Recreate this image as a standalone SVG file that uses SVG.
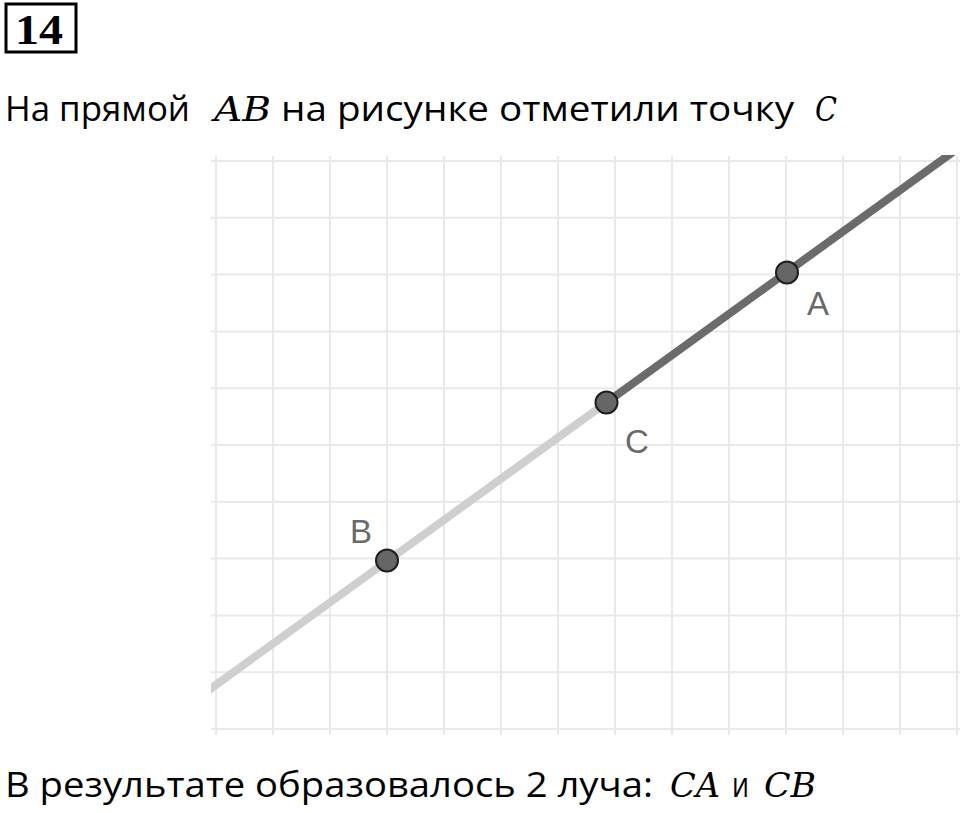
<svg xmlns="http://www.w3.org/2000/svg" width="960" height="813" viewBox="0 0 960 813">
<style>
.body{font-family:"Open Sans","Noto Sans","Liberation Sans",sans-serif;font-size:34px;fill:#000}
.math{font-family:"DejaVu Serif","Liberation Serif",serif;font-style:italic;font-size:33px;fill:#000}
.grid line{stroke:#e9e9e9;stroke-width:2}
.lbl{font-family:"Liberation Sans","DejaVu Sans",sans-serif;font-size:33px;fill:#6a6a6a}
.pt{fill:#666;stroke:#1e1e1e;stroke-width:2}
</style>
<defs>
<clipPath id="plot"><rect x="211" y="155" width="749" height="581"/></clipPath>
</defs>
<rect width="960" height="813" fill="#fff"/>
<g id="number">
<rect x="6" y="4" width="70" height="48" fill="none" stroke="#000" stroke-width="3"/>
<text x="15" y="44" font-family="Liberation Serif, serif" font-weight="bold" font-size="43" textLength="48" lengthAdjust="spacingAndGlyphs">14</text>
</g>
<g id="title">
<text class="body" x="5" y="121" textLength="185" lengthAdjust="spacingAndGlyphs">На прямой</text>
<text class="math" x="214" y="121" textLength="57" lengthAdjust="spacingAndGlyphs">AB</text>
<text class="body" x="281" y="121" textLength="513" lengthAdjust="spacingAndGlyphs">на рисунке отметили точку</text>
<text class="math" x="815" y="121" textLength="22" lengthAdjust="spacingAndGlyphs">C</text>
</g>
<g id="grid" class="grid">
<line x1="216" y1="156" x2="216" y2="735"/>
<line x1="273" y1="156" x2="273" y2="735"/>
<line x1="330" y1="156" x2="330" y2="735"/>
<line x1="387" y1="156" x2="387" y2="735"/>
<line x1="444" y1="156" x2="444" y2="735"/>
<line x1="501" y1="156" x2="501" y2="735"/>
<line x1="558" y1="156" x2="558" y2="735"/>
<line x1="615" y1="156" x2="615" y2="735"/>
<line x1="672" y1="156" x2="672" y2="735"/>
<line x1="729" y1="156" x2="729" y2="735"/>
<line x1="786" y1="156" x2="786" y2="735"/>
<line x1="843" y1="156" x2="843" y2="735"/>
<line x1="900" y1="156" x2="900" y2="735"/>
<line x1="957" y1="156" x2="957" y2="735"/>
<line x1="211" y1="161" x2="960" y2="161"/>
<line x1="211" y1="217.8" x2="960" y2="217.8"/>
<line x1="211" y1="274.6" x2="960" y2="274.6"/>
<line x1="211" y1="331.4" x2="960" y2="331.4"/>
<line x1="211" y1="388.2" x2="960" y2="388.2"/>
<line x1="211" y1="445" x2="960" y2="445"/>
<line x1="211" y1="501.8" x2="960" y2="501.8"/>
<line x1="211" y1="558.6" x2="960" y2="558.6"/>
<line x1="211" y1="615.4" x2="960" y2="615.4"/>
<line x1="211" y1="672.2" x2="960" y2="672.2"/>
<line x1="211" y1="729" x2="960" y2="729"/>
</g>
<g id="connectors" clip-path="url(#plot)" stroke-width="8" stroke-linecap="butt">
<line id="ray-CB" x1="606.5" y1="402.5" x2="200" y2="696.4" stroke="#cfcfcf"/>
<line id="ray-CA" x1="606.5" y1="402.5" x2="965" y2="143.3" stroke="#6b6b6b"/>
</g>
<g id="point-A"><circle class="pt" cx="787" cy="272.5" r="11"/><text class="lbl" x="807" y="315">A</text></g>
<g id="point-C"><circle class="pt" cx="606.5" cy="402.5" r="11"/><text class="lbl" x="625" y="453">C</text></g>
<g id="point-B"><circle class="pt" cx="387" cy="560.5" r="11"/><text class="lbl" x="350" y="543">B</text></g>
<g id="conclusion">
<text class="body" x="5" y="797" textLength="648" lengthAdjust="spacingAndGlyphs">В результате образовалось 2 луча:</text>
<text class="math" x="670" y="797" textLength="50" lengthAdjust="spacingAndGlyphs">CA</text>
<text class="body" x="732" y="797" textLength="17" lengthAdjust="spacingAndGlyphs">и</text>
<text class="math" x="764" y="797" textLength="52" lengthAdjust="spacingAndGlyphs">CB</text>
</g>
</svg>
